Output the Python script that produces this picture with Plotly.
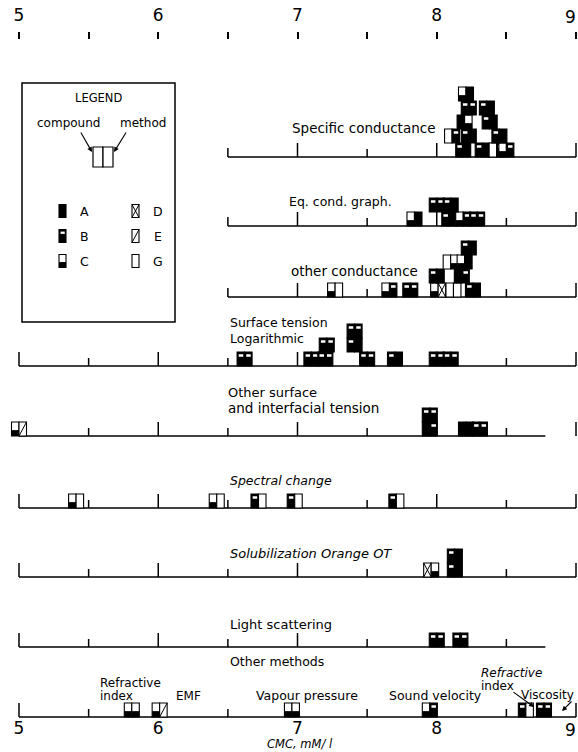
import plotly.graph_objects as go

# ---- CMC scale (mM/l) and page geometry ----
CMC_LO, CMC_HI = 5.0, 9.0
PX_LO, PX_HI = 19.0, 576.0
FIG_W, FIG_H = 578, 752
PLOT_TOP, PLOT_BOTTOM = 40, 719
SCALE = (PX_HI - PX_LO) / (CMC_HI - CMC_LO)


def px2x(px):
    return CMC_LO + (px - PX_LO) / SCALE


def py2paper(py):
    return (PLOT_BOTTOM - py) / (PLOT_BOTTOM - PLOT_TOP)


# ---- CMC determinations, one group of lists per method ----
# level = position in the stack, compound / method = legend code of each half
spec_cmc = [8.19, 8.33, 8.43, 8.50, 8.11, 8.23, 8.45, 8.20, 8.38, 8.23, 8.36, 8.21]
spec_level = [0, 0, 0, 0, 1, 1, 1, 2, 2, 3, 3, 4]
spec_compound = ["B", "B", "G", "C", "G", "B", "B", "A", "B", "B", "B", "C"]
spec_method = ["A", "A", "B", "B", "B", "A", "A", "C", "A", "B", "A", "A"]

eqc_cmc = [7.84, 8.09, 8.19, 8.29, 8.00, 8.10]
eqc_level = [0, 0, 0, 0, 1, 1]
eqc_compound = ["C", "B", "C", "B", "B", "B"]
eqc_method = ["A", "A", "B", "B", "B", "A"]

othc_cmc = [7.27, 7.66, 7.81, 8.01, 8.12, 8.26, 8.00, 8.18, 8.10, 8.20, 8.23]
othc_level = [0, 0, 0, 0, 0, 0, 1, 1, 2, 2, 3]
othc_compound = ["C", "C", "B", "C", "G", "B", "B", "A", "G", "C", "B"]
othc_method = ["G", "B", "B", "D", "G", "A", "A", "B", "C", "A", "A"]

stl_cmc = [6.62, 7.10, 7.20, 7.50, 7.70, 8.00, 8.10, 7.21, 7.41, 7.41]
stl_level = [0, 0, 0, 0, 0, 0, 0, 1, 1, 2]
stl_compound = ["B", "B", "B", "B", "B", "B", "B", "B", "B", "B"]
stl_method = ["B", "B", "B", "B", "A", "B", "B", "B", "A", "B"]

osit_cmc = [5.00, 7.95, 8.21, 8.31, 7.95]
osit_level = [0, 0, 0, 0, 1]
osit_compound = ["C", "A", "A", "B", "B"]
osit_method = ["E", "B", "A", "B", "B"]

spch_cmc = [5.41, 6.42, 6.72, 6.98, 7.71]
spch_level = [0, 0, 0, 0, 0]
spch_compound = ["C", "C", "B", "B", "B"]
spch_method = ["G", "G", "G", "G", "G"]

sol_cmc = [7.96, 8.13, 8.13]
sol_level = [0, 0, 1]
sol_compound = ["D", "B", "B"]
sol_method = ["C", "A", "A"]

ls_cmc = [8.00, 8.17]
ls_level = [0, 0]
ls_compound = ["B", "B"]
ls_method = ["B", "B"]

om_cmc = [5.81, 6.01, 6.96, 7.95, 8.64, 8.77]
om_level = [0, 0, 0, 0, 0, 0]
om_compound = ["C", "C", "C", "C", "B", "B"]
om_method = ["C", "E", "C", "B", "G", "B"]

# axis tick labels (the last one sits at the page edge and is set right-aligned)
major_ticks = [5, 6, 7, 8, 9]
half_ticks = [5.0, 5.5, 6.0, 6.5, 7.0, 7.5, 8.0, 8.5, 9.0]

legend_codes = ["A", "B", "C", "D", "E", "G"]

# ---- row layout: baseline (page px), scale start/end ----
rows = [
    dict(cmc=spec_cmc, level=spec_level, comp=spec_compound, meth=spec_method,
         base=157, start=6.5, end=9.0, tick_end=9.0),
    dict(cmc=eqc_cmc, level=eqc_level, comp=eqc_compound, meth=eqc_method,
         base=226, start=6.5, end=9.0, tick_end=9.0),
    dict(cmc=othc_cmc, level=othc_level, comp=othc_compound, meth=othc_method,
         base=297, start=6.5, end=9.0, tick_end=9.0),
    dict(cmc=stl_cmc, level=stl_level, comp=stl_compound, meth=stl_method,
         base=366, start=5.0, end=9.0, tick_end=9.0),
    dict(cmc=osit_cmc, level=osit_level, comp=osit_compound, meth=osit_method,
         base=436, start=5.0, end=8.78, tick_end=9.0),
    dict(cmc=spch_cmc, level=spch_level, comp=spch_compound, meth=spch_method,
         base=508, start=5.0, end=9.0, tick_end=9.0),
    dict(cmc=sol_cmc, level=sol_level, comp=sol_compound, meth=sol_method,
         base=577, start=5.0, end=9.0, tick_end=9.0),
    dict(cmc=ls_cmc, level=ls_level, comp=ls_compound, meth=ls_method,
         base=647, start=5.0, end=8.78, tick_end=8.5),
    dict(cmc=om_cmc, level=om_level, comp=om_compound, meth=om_method,
         base=717, start=5.0, end=9.0, tick_end=9.0),
]

INK = "black"
BOX_W_PX = 15.0     # width of a compound+method pair
BOX_H_PX = 14.0     # height of one stack level
HALF = BOX_W_PX / 2 / SCALE

shapes = []


def line(x0, y0, x1, y1, w=1.5):
    shapes.append(dict(type="line", xref="x", yref="y", x0=x0, y0=y0, x1=x1, y1=y1,
                       line=dict(color=INK, width=w)))


def rect(x0, y0, x1, y1, fill, w=1.1):
    shapes.append(dict(type="rect", xref="x", yref="y", x0=x0, y0=y0, x1=x1, y1=y1,
                       fillcolor=fill, line=dict(color=INK, width=w)))


def patch(x0, y0, x1, y1, fill):
    shapes.append(dict(type="rect", xref="x", yref="y", x0=x0, y0=y0, x1=x1, y1=y1,
                       fillcolor=fill, line=dict(width=0)))


def half_box(xa, xb, yb, yt, code):
    """One half of a marker; yb is the bottom (larger page y), yt the top."""
    h = yb - yt
    w = xb - xa
    if code in ("A", "B"):
        rect(xa, yb, xb, yt, INK)
        if code == "B":
            patch(xa + 0.22 * w, yt + 0.16 * h, xb - 0.18 * w, yt + 0.34 * h, "white")
    else:
        rect(xa, yb, xb, yt, "white")
        if code == "C":
            patch(xa, yb, xb, yb - 0.42 * h, INK)
        elif code == "D":
            line(xa, yb, xb, yt, 1.0)
            line(xa, yt, xb, yb, 1.0)
        elif code == "E":
            line(xa, yb, xb, yt, 1.0)


# baselines and scale ticks of every row
for r in rows:
    b = r["base"]
    line(r["start"], b, r["end"], b, 1.7)
    for t in half_ticks:
        if t < r["start"] or t > r["tick_end"]:
            continue
        tall = 14 if float(t).is_integer() else 8
        if t == r["start"] and not float(t).is_integer():
            tall = 9
        line(t, b, t, b - tall, 1.5)

# markers, drawn level by level so higher boxes overlap lower ones
for r in rows:
    order = sorted(range(len(r["cmc"])), key=lambda i: r["level"][i])
    for i in order:
        c = r["cmc"][i]
        yb = r["base"] - r["level"][i] * BOX_H_PX
        yt = yb - BOX_H_PX
        half_box(c - HALF, c, yb, yt, r["comp"][i])
        half_box(c, c + HALF, yb, yt, r["meth"][i])

# ---- legend panel ----
rect(px2x(22), 83, px2x(175), 322, "rgba(0,0,0,0)", 1.5)
rect(px2x(93), 167, px2x(103), 147, "white", 1.2)
rect(px2x(103), 167, px2x(113), 147, "white", 1.2)
legend_cols = [(62.5, 84), (135.5, 158)]
legend_rows_y = [211, 236, 261]
for k, code in enumerate(legend_codes):
    cx, lx = legend_cols[k // 3]
    cy = legend_rows_y[k % 3]
    half_box(px2x(cx - 3.5), px2x(cx + 3.5), cy + 6.5, cy - 6.5, code)

FONT = "DejaVu Sans"
annotations = []


def text(px, py, s, size=12, anchor="left", italic=False):
    annotations.append(dict(
        x=px2x(px), y=py, xref="x", yref="y", text=f"<i>{s}</i>" if italic else s,
        showarrow=False, xanchor=anchor, yanchor="middle",
        font=dict(family=FONT, size=size, color=INK)))


def arrow(hx, hy, tx, ty):
    annotations.append(dict(
        x=px2x(hx), y=hy, xref="x", yref="y", ax=tx - hx, ay=ty - hy,
        axref="pixel", ayref="pixel", text="", showarrow=True,
        arrowhead=2, arrowsize=0.9, arrowwidth=1.1, arrowcolor=INK))


for k, code in enumerate(legend_codes):
    cx, lx = legend_cols[k // 3]
    text(lx, legend_rows_y[k % 3], code, 12.5, "center")

text(98, 98, "LEGEND", 11.5, "center")
text(68, 123, "compound", 12, "center")
text(143, 123, "method", 12, "center")
arrow(92, 152, 80, 131)
arrow(114, 152, 127, 131)

# ---- row titles ----
text(290, 128, "Specific conductance", 13.5)
text(287, 201, "Eq. cond. graph.", 12.5)
text(289, 271, "other conductance", 13.5)
text(228, 322, "Surface tension", 12.5)
text(228, 338, "Logarithmic", 12.5)
text(226, 392, "Other surface", 13)
text(226, 408, "and interfacial tension", 13.5)
text(228, 480, "Spectral change", 12.5, italic=True)
text(228, 553, "Solubilization Orange OT", 13, italic=True)
text(228, 624, "Light scattering", 13)
text(228, 661, "Other methods", 12.5)

# labels for the individual "other methods"
text(98, 683, "Refractive", 12)
text(98, 696, "index", 12)
text(174, 696, "EMF", 12)
text(254, 695, "Vapour pressure", 12.5)
text(387, 695, "Sound velocity", 12.5)
text(479, 673, "Refractive", 12, italic=True)
text(479, 686, "index", 12)
text(519, 695, "Viscosity", 12)
arrow(534, 707, 512, 691)
arrow(562, 711, 573, 700)

# axis title, below the plotting area
annotations.append(dict(
    x=px2x(300), y=py2paper(744), xref="x", yref="paper", text="<i>CMC, mM/ l</i>",
    showarrow=False, xanchor="center", yanchor="middle",
    font=dict(family=FONT, size=11.5, color=INK)))

# the last scale number on each axis, kept inside the page edge
edge_label = str(major_ticks[-1])
for ypos in (17, 730):
    annotations.append(dict(
        x=1.0, y=py2paper(ypos), xref="paper", yref="paper", text=edge_label,
        showarrow=False, xanchor="right", yanchor="middle",
        font=dict(family=FONT, size=17, color=INK)))

x_range = [px2x(0), px2x(FIG_W)]
inner_ticks = major_ticks[:-1]

fig = go.Figure()
# invisible anchor traces so both x axes are drawn
fig.add_trace(go.Scatter(x=[CMC_LO, CMC_HI], y=[PLOT_TOP, PLOT_BOTTOM], mode="markers",
                         marker=dict(opacity=0), hoverinfo="skip", showlegend=False))
fig.add_trace(go.Scatter(x=[CMC_LO, CMC_HI], y=[PLOT_TOP, PLOT_BOTTOM], mode="markers",
                         marker=dict(opacity=0), hoverinfo="skip", showlegend=False,
                         xaxis="x2"))

fig.update_layout(
    width=FIG_W, height=FIG_H,
    margin=dict(l=0, r=0, t=PLOT_TOP, b=FIG_H - PLOT_BOTTOM, pad=0),
    paper_bgcolor="white", plot_bgcolor="white",
    showlegend=False,
    xaxis=dict(range=x_range, tickvals=inner_ticks, ticktext=[str(v) for v in inner_ticks],
               ticks="", ticklabelstandoff=-3,
               showline=False, showgrid=False, zeroline=False, automargin=False,
               tickfont=dict(family=FONT, size=17, color=INK)),
    xaxis2=dict(range=x_range, overlaying="x", side="top",
                tickvals=half_ticks,
                ticktext=[str(int(v)) if float(v).is_integer() and v in inner_ticks else ""
                          for v in half_ticks],
                ticks="outside", ticklen=7, tickwidth=1.5, tickcolor=INK,
                ticklabelstandoff=4,
                showline=False, showgrid=False, zeroline=False, automargin=False,
                tickfont=dict(family=FONT, size=17, color=INK)),
    yaxis=dict(range=[PLOT_BOTTOM, PLOT_TOP], visible=False, automargin=False),
    shapes=shapes,
    annotations=annotations,
)

fig.write_html("out.html")
